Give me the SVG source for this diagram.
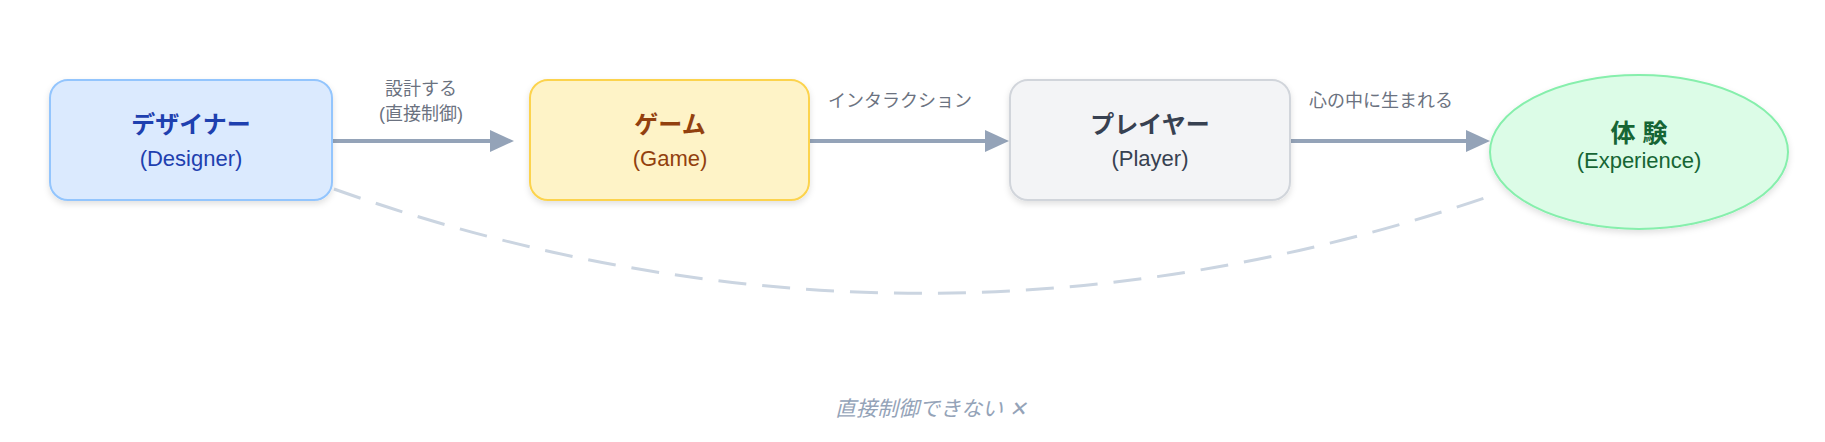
<svg xmlns="http://www.w3.org/2000/svg" width="1825" height="442" viewBox="0 0 1825 442">
<style>
text{font-family:"Liberation Sans","Noto Sans CJK JP",sans-serif;text-anchor:middle}
.t{font-size:24px;font-weight:bold}
.s{font-size:22px}
.l{font-size:18px;fill:#6b7280}
.e{stroke:#94a3b8;stroke-width:4;fill:none}
.h{fill:#94a3b8}
</style>
<defs>
<filter id="sh" x="-10%" y="-10%" width="120%" height="130%"><feDropShadow dx="0" dy="3" stdDeviation="3" flood-color="#000" flood-opacity="0.12"/></filter>
</defs>
<g id="connectors">
<path d="M334,189 Q915,395 1496,194" stroke="#cbd5e1" stroke-width="3" fill="none" stroke-dasharray="28,16"/>
<path d="M332,141 L490,141" class="e"/>
<path class="h" d="M490,130 L514,141 L490,152z"/>
<path d="M809,141 L985,141" class="e"/>
<path class="h" d="M985,130 L1009,141 L985,152z"/>
<path d="M1290,141 L1466,141" class="e"/>
<path class="h" d="M1466,130 L1490,141 L1466,152z"/>
<text class="l" x="421" y="95">設計する</text>
<text class="l" x="421" y="120">(直接制御)</text>
<text class="l" x="900" y="107">インタラクション</text>
<text class="l" x="1381" y="107">心の中に生まれる</text>
<text x="931" y="416" style="font-size:21px;font-style:italic;fill:#94a3b8">直接制御できない ✕</text>
</g>
<g id="designer">
<rect x="50" y="80" width="282" height="120" rx="18" fill="#dbeafe" stroke="#93c5fd" stroke-width="2" filter="url(#sh)"/>
<text class="t" x="191" y="133" fill="#1e40af">デザイナー</text>
<text class="s" x="191" y="166" fill="#1e40af">(Designer)</text>
</g>
<g id="game">
<rect x="530" y="80" width="279" height="120" rx="18" fill="#fef3c7" stroke="#fcd34d" stroke-width="2" filter="url(#sh)"/>
<text class="t" x="670" y="133" fill="#92400e">ゲーム</text>
<text class="s" x="670" y="166" fill="#92400e">(Game)</text>
</g>
<g id="player">
<rect x="1010" y="80" width="280" height="120" rx="18" fill="#f3f4f6" stroke="#d1d5db" stroke-width="2" filter="url(#sh)"/>
<text class="t" x="1150" y="133" fill="#374151">プレイヤー</text>
<text class="s" x="1150" y="166" fill="#374151">(Player)</text>
</g>
<g id="experience">
<ellipse cx="1639" cy="152" rx="149" ry="77" fill="#dcfce7" stroke="#86efac" stroke-width="2" filter="url(#sh)"/>
<text class="t" x="1639" y="142" fill="#166534" style="font-size:25px">体 験</text>
<text class="s" x="1639" y="168" fill="#166534">(Experience)</text>
</g>
</svg>
